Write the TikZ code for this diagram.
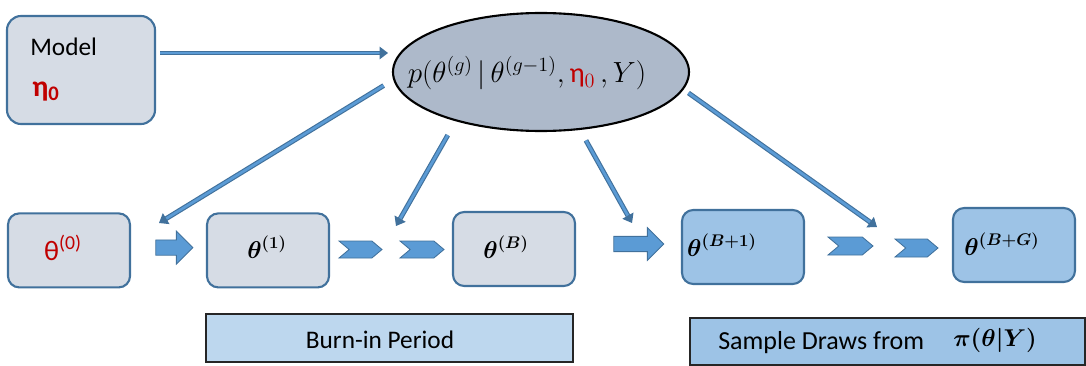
\documentclass[tikz,border=0pt]{standalone}
\usepackage{amsmath}
\usepackage{fontspec}
\setmainfont{Carlito}
\usetikzlibrary{arrows.meta, shapes.geometric, shapes.arrows, shapes.symbols}

\definecolor{lineblue}{HTML}{41719C}
\definecolor{arrowblue}{HTML}{5B9BD5}
\definecolor{greyfill}{HTML}{D6DCE5}
\definecolor{drawfill}{HTML}{9DC3E6}
\definecolor{burnfill}{HTML}{BDD7EE}
\definecolor{postfill}{HTML}{ADB9CA}
\definecolor{etared}{HTML}{C00000}

\begin{document}
\begin{tikzpicture}[
    font=\fontsize{18}{22}\selectfont,
    box/.style={draw=lineblue, line width=1.5pt, rounded corners=8pt,
                minimum width=3.05cm, minimum height=1.85cm},
    burn/.style={box, fill=greyfill},
    keep/.style={box, fill=drawfill},
    band/.style={draw=black!85, line width=1.2pt, minimum height=1.2cm},
    blk/.style={single arrow, draw=lineblue, fill=arrowblue, line width=0.6pt,
                inner xsep=0pt, inner ysep=0.18cm, minimum width=0.8cm,
                text height=0pt, text depth=0pt,
                single arrow head extend=0.22cm, single arrow head indent=0pt},
    chev/.style={signal, signal from=west, signal to=east, draw=lineblue,
                 fill=arrowblue, line width=0.6pt, inner sep=0pt,
                 signal pointer angle=80},
    link/.style={draw=lineblue, double=arrowblue, double distance=1.9pt,
                 line width=0.8pt, -{Triangle[length=6pt,width=9pt]}},
    lab/.style={inner sep=0pt},
    th/.style={inner sep=0pt, font=\fontsize{17}{20}\selectfont},
  ]
  \useasboundingbox (0,0) rectangle (27.15,-9.15);

  %% ---- model and full conditional --------------------------------
  \node[burn, minimum width=3.7cm, minimum height=2.7cm, rounded corners=10pt]
    (model) at (2.025,-1.75) {};
  \node[lab, anchor=base west] (mtxt) at (0.75,-1.4) {Model};
  \node[lab, anchor=base west, text=etared, font=\fontsize{21}{24}\selectfont\bfseries]
    (meta) at (0.8,-2.4) {η\textsubscript{0}};

  \node[ellipse, draw=black, line width=1.5pt, fill=postfill,
        minimum width=7.4cm, minimum height=2.95cm, inner sep=0pt]
    (post) at (13.525,-1.8) {};
  \node[lab, font=\fontsize{20}{24}\selectfont] (ptxt) at (13.175,-1.825)
    {$p(\theta^{(g)}\,|\,\theta^{(g-1)},{\color{etared}\text{η}_0}\,,Y)$};

  \coordinate (m1) at (9.7,-1.325);
  \draw[link] (4.0,-1.325) -- (m1);

  %% ---- chain of draws ----------------------------------------------
  \node[burn] (b0) at ( 1.725,-6.26)  {};
  \node[burn] (b1) at ( 6.7,  -6.26)  {};
  \node[burn] (bB) at (12.85, -6.225) {};
  \node[keep] (s1) at (18.575,-6.175) {};
  \node[keep] (sG) at (25.35, -6.125) {};

  \node[lab, text=etared, font=\fontsize{20}{24}\selectfont] (t0) at (1.575,-6.2)
    {θ\textsuperscript{(0)}};
  \node[th] (t1) at ( 6.675,-6.175) {$\boldsymbol{\theta}^{\boldsymbol{(1)}}$};
  \node[th] (tB) at (12.65, -6.175) {$\boldsymbol{\theta}^{\boldsymbol{(B)}}$};
  \node[th] (u1) at (18.05, -6.125) {$\boldsymbol{\theta}^{\boldsymbol{(B+1)}}$};
  \node[th] (uG) at (25.05, -6.1)   {$\boldsymbol{\theta}^{\boldsymbol{(B+G)}}$};

  \node[blk, minimum height=0.925cm] (a1) at (4.2625,-6.19) {};
  \node[blk, minimum height=1.25cm]  (a2) at (15.875,-6.1) {};

  \node[chev, minimum width=1.075cm, minimum height=0.425cm] (c1) at ( 9.0125,-6.2375) {};
  \node[chev, minimum width=1.1cm,   minimum height=0.425cm] (c2) at (10.55,  -6.2375) {};
  \node[chev, minimum width=1.125cm, minimum height=0.45cm]  (c3) at (21.2625,-6.15)   {};
  \node[chev, minimum width=1.075cm, minimum height=0.45cm]  (c4) at (22.9125,-6.2)    {};

  %% ---- draws from the conditional ----------------------------------
  \coordinate (e1) at ( 3.975,-5.575);
  \coordinate (e2) at ( 9.9,  -5.65);
  \coordinate (e3) at (15.8,  -5.575);
  \coordinate (e4) at (21.925,-5.675);
  \draw[link, shorten <=0.28cm] (post.183) -- (e1);
  \draw[link, shorten <=0.4cm]  (post.210) -- (e2);
  \draw[link, shorten <=0.3cm]  (post.304) -- (e3);
  \draw[link, shorten <=0.15cm] (post.353) -- (e4);

  %% ---- periods -----------------------------------------------------
  \node[band, fill=burnfill, minimum width=9.175cm] (burnin) at (9.7375,-8.45) {};
  \node[band, fill=drawfill, minimum width=9.875cm, minimum height=1.175cm]
    (sample) at (22.1875,-8.5375) {};
  \node[lab] (btxt) at (9.5,-8.5) {Burn-in Period};
  \node[lab, anchor=west, font=\fontsize{18.5}{22}\selectfont] (stxt) at (17.95,-8.575)
    {Sample Draws from};
  \node[lab, font=\fontsize{16}{20}\selectfont] (ptgt) at (24.875,-8.5)
    {$\boldsymbol{\pi(\theta|Y)}$};
\end{tikzpicture}
\end{document}
